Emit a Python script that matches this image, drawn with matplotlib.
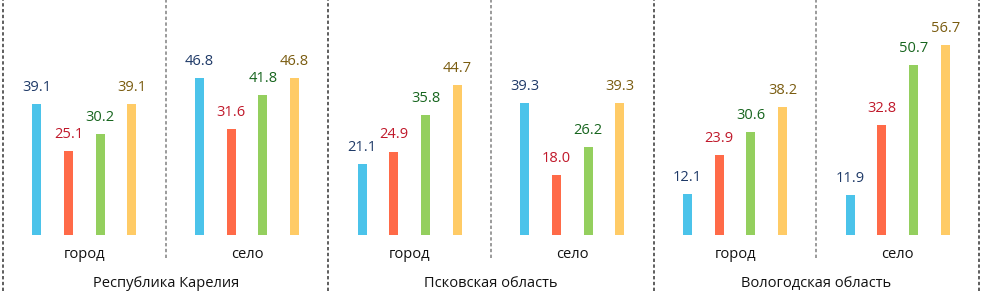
import numpy as np
import matplotlib
matplotlib.use("Agg")
import matplotlib.pyplot as plt

plt.rcParams['font.family'] = ['Open Sans', 'DejaVu Sans']

regions = ["Республика Карелия", "Псковская область", "Вологодская область"]
places = ["город", "село"]

# 4 ряда, по 6 групп (город/село для каждого региона)
series1 = [39.1, 46.8, 21.1, 39.3, 12.1, 11.9]
series2 = [25.1, 31.6, 24.9, 18.0, 23.9, 32.8]
series3 = [30.2, 41.8, 35.8, 26.2, 30.6, 50.7]
series4 = [39.1, 46.8, 44.7, 39.3, 38.2, 56.7]

bar_colors = ["#4BC3EA", "#FF6A48", "#94CF5E", "#FFCB66"]
text_colors = ["#1F3A68", "#C0182A", "#17651E", "#7A5C10"]

fig = plt.figure(figsize=(9.82, 2.91), dpi=100)
ax = fig.add_axes([0, 0, 1, 1])

px = 162.67  # пикселей на группу
x0 = -0.5 - 3 / px
ax.set_xlim(x0, x0 + 982 / px)
sc = 3.35  # пикселей на единицу
ax.set_ylim(-56 / sc, 235 / sc)
ax.axis("off")

groups = np.arange(6)
offsets = [-0.292, -0.097, 0.097, 0.292]
allser = [series1, series2, series3, series4]
for j, vals in enumerate(allser):
    xs = groups + offsets[j]
    ax.bar(xs, vals, width=0.056, color=bar_colors[j], linewidth=0)
    for x, v in zip(xs, vals):
        ax.annotate(f"{v:.1f}", (x, v), xytext=(0, 9.5), textcoords="offset points",
                    ha="center", va="baseline", fontsize=10.5, color=text_colors[j])

# подписи город / село
for i in groups:
    ax.text(i, -6.9, places[i % 2], ha="center", va="baseline", fontsize=10.5, color="#111111")
# подписи регионов
for k, r in enumerate(regions):
    ax.text(2 * k + 0.5, -15.6, r, ha="center", va="baseline", fontsize=10.5, color="#111111")

dash = (0, (2.2, 1.6))
ylo, yhi = ax.get_ylim()
# разделители регионов
for k in range(4):
    ax.plot([2 * k - 0.5] * 2, [ylo, yhi], color="#333333", lw=1.1, linestyle=dash, clip_on=False)
# разделители город/село
for k in range(3):
    ax.plot([2 * k + 0.5] * 2, [-6.9, yhi], color="#808080", lw=1.1, linestyle=dash, clip_on=False)

plt.savefig("out.png", dpi=100)
